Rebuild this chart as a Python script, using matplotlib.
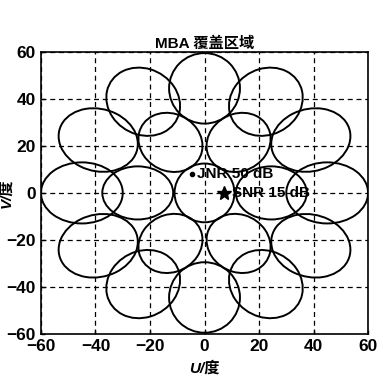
import numpy as np
import matplotlib.pyplot as plt
from matplotlib.patches import Ellipse

plt.rcParams['font.family'] = ['Liberation Sans', 'Noto Sans CJK SC']

# beam centres (degrees)
beam_u = [0,
          24.5, 12.5, -12.5, -24.5, -12.5, 12.5,
          45, 39, 22.5, 0, -22.5, -39, -45, -39, -22.5, 0, 22.5, 39]
beam_v = [0,
          0, 21.5, 21.5, 0, -21.5, -21.5,
          0, 22.5, 38.8, 44.5, 38.8, 22.5, 0, -22.5, -38.8, -44.5, -38.8, -22.5]
# beam size along the radial / tangential direction (degrees)
beam_radial = [22] + [26] * 6 + [30] * 12
beam_tangential = [25] + [22.6] * 6 + [26] * 12

jnr_point = (-4.7, 8.0)
snr_point = (7.0, 0.0)
jnr_label = "JNR 50 dB"
snr_label = "SNR 15 dB"

ticks = [-60, -40, -20, 0, 20, 40, 60]

fig = plt.figure(figsize=(3.83, 3.79), dpi=100)
ax = fig.add_axes([0.107, 0.119, 0.854, 0.744])

for u, v, rw, tw in zip(beam_u, beam_v, beam_radial, beam_tangential):
    ang = np.degrees(np.arctan2(v, u))
    ax.add_patch(Ellipse((u, v), rw, tw, angle=ang, fill=False,
                         edgecolor='black', linewidth=1.4))

ax.plot(*jnr_point, 'k.', markersize=6)
ax.plot(*snr_point, 'k*', markersize=10)
ax.text(jnr_point[0] + 1.8, jnr_point[1], jnr_label, fontsize=11,
        va='center', ha='left', fontweight='bold')
ax.text(snr_point[0] + 3.2, snr_point[1], snr_label, fontsize=11,
        va='center', ha='left', fontweight='bold')

ax.set_xlim(-60, 60)
ax.set_ylim(-60, 60)
ax.set_xticks(ticks)
ax.set_yticks(ticks)
ax.tick_params(direction='in', length=3, labelsize=12.5, width=1)
for lab in ax.get_xticklabels() + ax.get_yticklabels():
    lab.set_fontweight('bold')
ax.grid(True, linestyle=(0, (4, 3)), color='black', linewidth=0.9)
for sp in ax.spines.values():
    sp.set_linewidth(1.2)

ax.set_title("MBA 覆盖区域", fontsize=11, fontweight='bold', pad=3)
ax.set_xlabel("U/度", fontsize=11, fontstyle='italic', fontweight='bold', labelpad=5)
ax.set_ylabel("V/度", fontsize=11, fontstyle='italic', fontweight='bold')
ax.yaxis.set_label_coords(-0.085, 0.5)

fig.savefig("out.png", dpi=100)
